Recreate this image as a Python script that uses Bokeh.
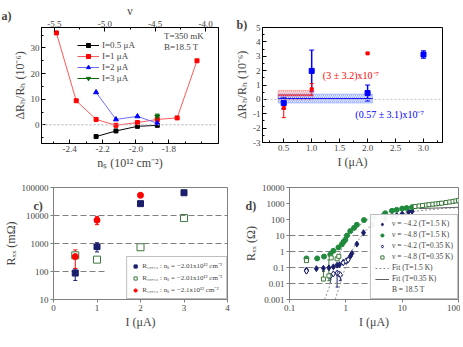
from bokeh.plotting import figure
from bokeh.models import (Range1d, LinearAxis, Label, Legend, LegendItem, Whisker, Title,
                          ColumnDataSource, FixedTicker, PrintfTickFormatter, Span, TeeHead)
from bokeh.layouts import column, row
from bokeh.embed import file_html
from bokeh.resources import INLINE

FONT = "Liberation Serif"

# ---------------- panel a data ----------------
a_ns = [-2.48, -2.36, -2.24, -2.12, -1.99, -1.87, -1.75, -1.63]
a_red_y = [35.9, 9.4, 2.1, -0.2, 0.9, 2.1, 2.7, 25.0]
a_black_x = [-2.24, -2.12, -1.99, -1.87]
a_black_y = [-4.6, -2.4, -0.6, -0.2]
a_blue_x = [-2.24, -2.12, -1.99, -1.87]
a_blue_y = [12.7, 2.1, 3.3, 0.6]
a_green_x = [-1.87]
a_green_y = [3.3]
a_green_err = [0.9]
a_red_err_x = [-1.87]
a_red_err_y = [2.1]
a_red_err = [1.0]
a_xticks = [-2.4, -2.2, -2.0, -1.8]
a_nu_ticks = [-5.5, -5.0, -4.5, -4.0]
a_yticks = [0, 10, 20, 30]

# ---------------- panel b data ----------------
b_blue_x = [0.5, 1.0, 2.0, 3.0]
b_blue_y = [-0.26, 1.98, 0.44, 3.12]
b_blue_err = [0.4, 1.45, 0.56, 0.26]
b_red_x = [0.5, 1.0, 2.0]
b_red_y = [-0.6, 0.7, 3.2]
b_red_err = [0.67, 0.4, 0.05]
b_red_fit = [0.3, 0.32]          # mean, error
b_red_fit_x = [0.4, 1.02]
b_blue_fit = [0.057, 0.31]
b_blue_fit_x = [0.4, 2.09]
b_xticks = [0.5, 1.0, 1.5, 2.0, 2.5, 3.0]
b_yticks = [-3, -2, -1, 0, 1, 2, 3, 4, 5]

# ---------------- panel c data ----------------
c_navy_x = [0.5, 1.0, 2.0, 3.0]
c_navy_y = [88, 776, 26500, 65000]
c_navy_lo = [48, 500, 26500, 65000]
c_navy_hi = [125, 1070, 26500, 65000]
c_open_x = [0.5, 1.0, 2.0, 3.0]
c_open_y = [378, 265, 735, 8100]
c_red_x = [0.5, 1.0, 2.0]
c_red_y = [340, 6800, 52700]
c_red_lo = [129, 4700, 52700]
c_red_hi = [590, 9300, 52700]
c_xticks = [0, 1, 2, 3, 4]
c_yticks = [10, 100, 1000, 10000, 100000]
c_dash = [100, 1000, 10000]

# ---------------- panel d data ----------------
d_n42_hot_x = [0.2, 0.2, 0.3, 0.4, 0.5, 0.6, 0.7, 0.77, 0.9, 1.05, 1.2, 1.28, 1.57, 2.06, 3.0, 5.0, 6.6, 8.0, 10.0, 13.0, 15.0]
d_n42_hot_y = [0.07, 0.06, 0.085, 0.089, 0.095, 0.11, 0.14, 0.15, 0.21, 0.27, 0.5, 0.76, 2.9, 15, 47, 114, 155, 178, 225, 300, 330]
d_n48_hot_x = [0.2, 0.31, 0.41, 0.53, 0.6, 0.74, 0.85, 0.91, 0.98, 1.05, 1.2, 1.4, 1.57, 2.1, 3.1, 5.0, 6.6, 8.0, 10.0, 12.0, 15.0]
d_n48_hot_y = [0.37, 0.37, 0.48, 0.66, 1.1, 1.8, 2.8, 4.0, 5.4, 10, 19, 30, 47, 92, 144, 245, 350, 400, 480, 520, 590]
d_n42_cold_x = [0.2, 0.53, 0.6, 0.7, 0.75, 0.8, 0.9, 1.0, 1.1]
d_n42_cold_y = [0.06, 0.029, 0.04, 0.045, 0.04, 0.035, 0.2, 0.25, 0.3]
d_n42_cold_lo = [0.06, 0.01, 0.04, 0.006, 0.04, 0.015, 0.2, 0.25, 0.3]
d_n48_cold_x = [0.2, 0.4, 0.5, 0.55, 0.7, 0.75, 17, 20, 23, 27, 30, 35, 40, 45, 50, 60, 70, 80, 90, 100]
d_n48_cold_y = [0.27, 0.019, 0.03, 0.4, 0.35, 0.5, 650, 700, 750, 800, 850, 900, 950, 1000, 1050, 1150, 1250, 1350, 1450, 1550]
d_n48_cold_lo = [0.27, 0.015, 0.015, 0.4, 0.35, 0.5, 650, 700, 750, 800, 850, 900, 950, 1000, 1050, 1150, 1250, 1350, 1450, 1550]
d_n48_cold_hi = [0.27, 0.056, 0.3, 0.4, 0.35, 0.5, 650, 700, 750, 800, 850, 900, 950, 1000, 1050, 1150, 1250, 1350, 1450, 1550]
d_fit48_x = [0.42, 0.5, 0.6, 0.7, 0.85, 1.0, 1.3, 1.7, 2.2, 3.0, 5.0, 10, 20, 50, 100]
d_fit48_y = [0.001, 0.005, 0.05, 0.3, 1.5, 5, 15, 40, 80, 150, 280, 500, 750, 1100, 1400]
d_fit42_x = [0.65, 0.75, 0.9, 1.0, 1.2, 1.5, 2.0, 2.5, 3.0, 5.0, 10, 20, 50, 100]
d_fit42_y = [0.001, 0.005, 0.04, 0.12, 0.7, 3, 12, 30, 50, 110, 230, 350, 480, 550]
d_fitc_x = [20, 40, 70, 100]
d_fitc_y = [480, 520, 560, 580]
d_xticks = [0.1, 1, 10, 100]
d_yticks = [0.001, 0.01, 0.1, 1, 10, 100, 1000, 10000]
d_dash = [0.01, 0.1, 1, 10]

NAVY = "#1b1f6b"
GREEN = "#1f8a3c"
OGREEN = "#3d7a3d"


def style(p, grey=False, inner=True):
    p.outline_line_color = "#808080" if grey else "black"
    p.xgrid.visible = False
    p.ygrid.visible = False
    for ax in p.axis:
        ax.major_label_text_font = FONT
        ax.major_label_text_font_size = "9px"
        ax.axis_label_text_font = FONT
        ax.axis_label_text_font_size = "12px"
        ax.axis_label_text_font_style = "normal"
        ax.axis_line_color = "#808080" if grey else "black"
        ax.major_tick_line_color = "#808080" if grey else "black"
        ax.major_label_standoff = 2
        ax.axis_label_standoff = 1
        if inner:
            ax.major_tick_in = 4
            ax.major_tick_out = 0
            ax.minor_tick_in = 2
            ax.minor_tick_out = 0
        else:
            ax.major_tick_in = 0
            ax.major_tick_out = 3
            ax.minor_tick_line_color = None


def tag(p, txt, offset, standoff):
    p.add_layout(Title(text=txt, align="left", offset=offset, vertical_align="bottom",
                       standoff=standoff, text_font=FONT, text_font_size="12px",
                       text_font_style="bold"), "above")


# ================= panel a =================
pa = figure(frame_width=177, frame_height=116, x_range=Range1d(-2.57, -1.50), y_range=Range1d(-7.3, 38),
            output_backend="svg", toolbar_location=None,
            min_border_left=41, min_border_right=14, min_border_top=5, min_border_bottom=5)
pa.extra_x_ranges = {"nu": Range1d(-5.627, -3.873)}
topax = LinearAxis(x_range_name="nu", axis_label="ν",
                   ticker=FixedTicker(ticks=a_nu_ticks, minor_ticks=[-5.25, -4.75, -4.25]),
                   formatter=PrintfTickFormatter(format="%.1f"))
pa.add_layout(topax, "above")
bax = pa.below[0]
bax.ticker = FixedTicker(ticks=a_xticks, minor_ticks=[-2.5, -2.3, -2.1, -1.9, -1.7, -1.6])
bax.formatter = PrintfTickFormatter(format="%.1f")
bax.axis_label = "nₛ (10¹² cm⁻²)"
lax = pa.left[0]
lax.ticker = FixedTicker(ticks=a_yticks, minor_ticks=[-5, 5, 15, 25, 35])
lax.axis_label = "ΔRₕ/Rₕ (10⁻⁶)"
style(pa)
topax.axis_label_standoff = 0
topax.major_label_standoff = 1
pa.add_layout(Span(location=0, dimension="width", line_color="#b0b0b0", line_dash="2 2", line_width=1))

lk = pa.line(a_black_x, a_black_y, line_color="black", line_width=1)
sk = pa.scatter(a_black_x, a_black_y, marker="square", size=4, color="black")
lr = pa.line(a_ns, a_red_y, line_color="#ff5a5a", line_width=1)
sr = pa.scatter(a_ns, a_red_y, marker="square", size=4, color="red")
lb = pa.line(a_blue_x, a_blue_y, line_color="#6f6fff", line_width=1)
sb = pa.scatter(a_blue_x, a_blue_y, marker="triangle", size=5, color="blue")
lg = pa.line(a_green_x, a_green_y, line_color="#0a6a0a", line_width=1)
sg = pa.scatter(a_green_x, a_green_y, marker="inverted_triangle", size=5, color="#0a6a0a")
pa.add_layout(Whisker(base=a_red_err_x[0], upper=a_red_err_y[0] + a_red_err[0],
                      lower=a_red_err_y[0] - a_red_err[0], line_color="red",
                      upper_head=TeeHead(size=4, line_color="red"),
                      lower_head=TeeHead(size=4, line_color="red")))
src_ag = ColumnDataSource(dict(x=a_green_x, up=[y + e for y, e in zip(a_green_y, a_green_err)],
                               lo=[y - e for y, e in zip(a_green_y, a_green_err)]))
pa.add_layout(Whisker(source=src_ag, base="x", upper="up", lower="lo", line_color="#0a6a0a",
                      upper_head=TeeHead(size=4, line_color="#0a6a0a"),
                      lower_head=TeeHead(size=4, line_color="#0a6a0a")))
leg_a = Legend(items=[LegendItem(label="I=0.5 μA", renderers=[lk, sk]),
                      LegendItem(label="I=1 μA", renderers=[lr, sr]),
                      LegendItem(label="I=2 μA", renderers=[lb, sb]),
                      LegendItem(label="I=3 μA", renderers=[lg, sg])],
               location=(36, 60), background_fill_alpha=0, border_line_alpha=0,
               label_text_font=FONT, label_text_font_size="9px", glyph_width=22, glyph_height=10,
               label_height=10, spacing=1, padding=0, margin=0, label_standoff=3)
pa.add_layout(leg_a)
pa.add_layout(Label(x=-1.83, y=34.6, text="T=350 mK", text_font=FONT, text_font_size="9px",
                    text_baseline="middle"))
pa.add_layout(Label(x=-1.83, y=30.2, text="B=18.5 T", text_font=FONT, text_font_size="9px",
                    text_baseline="middle"))
tag(pa, "a)", -40, -45)

# ================= panel b =================
pb = figure(frame_width=180, frame_height=115, x_range=Range1d(0.12, 3.34), y_range=Range1d(-3, 5),
            output_backend="svg", toolbar_location=None,
            min_border_left=28, min_border_right=3, min_border_top=22, min_border_bottom=40)
b_xt = FixedTicker(ticks=b_xticks, minor_ticks=[0.25, 0.75, 1.25, 1.75, 2.25, 2.75, 3.25])
b_yt = FixedTicker(ticks=b_yticks, minor_ticks=[-2.5, -1.5, -0.5, 0.5, 1.5, 2.5, 3.5, 4.5])
pb.xaxis.ticker = b_xt
pb.xaxis.formatter = PrintfTickFormatter(format="%.1f")
pb.yaxis.ticker = b_yt
pb.yaxis.formatter = PrintfTickFormatter(format="%d")
pb.xaxis.axis_label = "I (μA)"
pb.yaxis.axis_label = "ΔRₕ/Rₕ (10⁻⁶)"
style(pb)
pb.add_layout(Span(location=0, dimension="width", line_color="#c0c0c0", line_dash="2 2", line_width=1))
pb.quad(left=[b_red_fit_x[0]], right=[b_red_fit_x[1]], bottom=[b_red_fit[0] - b_red_fit[1]],
        top=[b_red_fit[0] + b_red_fit[1]], fill_color="red", fill_alpha=0.08,
        hatch_pattern="left_diagonal_line", hatch_color="#e06060", hatch_alpha=0.7, hatch_scale=4,
        hatch_weight=0.7, line_color="#ff8080", line_alpha=0.6)
pb.quad(left=[b_blue_fit_x[0]], right=[b_blue_fit_x[1]], bottom=[b_blue_fit[0] - b_blue_fit[1]],
        top=[b_blue_fit[0] + b_blue_fit[1]], fill_color="#4f7fff", fill_alpha=0.12,
        hatch_pattern="left_diagonal_line", hatch_color="#4f6fff", hatch_alpha=0.7, hatch_scale=4,
        hatch_weight=0.7, line_color="#8fa8ff", line_alpha=0.6)
pb.line(b_red_fit_x, [b_red_fit[0]] * 2, line_color="red", line_width=1)
pb.line(b_blue_fit_x, [b_blue_fit[0]] * 2, line_color="blue", line_width=1)
src_bb = ColumnDataSource(dict(x=b_blue_x, up=[y + e for y, e in zip(b_blue_y, b_blue_err)],
                               lo=[y - e for y, e in zip(b_blue_y, b_blue_err)]))
pb.add_layout(Whisker(source=src_bb, base="x", upper="up", lower="lo", line_color="blue", line_width=1.5,
                      upper_head=TeeHead(size=5, line_color="blue"),
                      lower_head=TeeHead(size=5, line_color="blue")))
src_br = ColumnDataSource(dict(x=b_red_x, up=[y + e for y, e in zip(b_red_y, b_red_err)],
                               lo=[y - e for y, e in zip(b_red_y, b_red_err)]))
pb.add_layout(Whisker(source=src_br, base="x", upper="up", lower="lo", line_color="red", line_width=1,
                      upper_head=TeeHead(size=4, line_color="red"),
                      lower_head=TeeHead(size=4, line_color="red")))
pb.scatter(b_blue_x, b_blue_y, marker="square", size=5, color="blue")
pb.scatter(b_red_x, b_red_y, marker="square", size=3, color="red")
pb.add_layout(Label(x=1.2, y=1.65, text="(3 ± 3.2)x10⁻⁷", text_font=FONT, text_font_size="10px",
                    text_color="red", text_baseline="middle"))
pb.add_layout(Label(x=1.78, y=-1.07, text="(0.57 ± 3.1)x10⁻⁷", text_font=FONT, text_font_size="10px",
                    text_color="blue", text_baseline="middle"))
tag(pb, "b)", -26, -9)

# ================= panel c =================
pc = figure(frame_width=174, frame_height=112, x_range=Range1d(0, 4), y_range=Range1d(10, 100000),
            y_axis_type="log", output_backend="svg", toolbar_location=None,
            min_border_left=45, min_border_right=13, min_border_top=10, min_border_bottom=5)
pc.xaxis.ticker = FixedTicker(ticks=c_xticks)
pc.yaxis.ticker = FixedTicker(ticks=c_yticks)
pc.yaxis.formatter = PrintfTickFormatter(format="%d")
pc.xaxis.axis_label = "I (μA)"
pc.yaxis.axis_label = "Rₓₓ (mΩ)"
style(pc, grey=True, inner=False)
for v in c_dash[1:]:
    pc.add_layout(Span(location=v, dimension="width", line_color="#808080", line_dash="6 3", line_width=1))
pc.line([0, 1.2], [c_dash[0]] * 2, line_color="#808080", line_dash="6 3", line_width=1)
src_cn = ColumnDataSource(dict(x=c_navy_x, up=c_navy_hi, lo=c_navy_lo))
pc.add_layout(Whisker(source=src_cn, base="x", upper="up", lower="lo", line_color=NAVY,
                      upper_head=TeeHead(size=4, line_color=NAVY), lower_head=TeeHead(size=4, line_color=NAVY)))
src_cr = ColumnDataSource(dict(x=c_red_x, up=c_red_hi, lo=c_red_lo))
pc.add_layout(Whisker(source=src_cr, base="x", upper="up", lower="lo", line_color="red",
                      upper_head=TeeHead(size=4, line_color="red"), lower_head=TeeHead(size=4, line_color="red")))
rc1 = pc.scatter(c_navy_x, c_navy_y, marker="square", size=6, color=NAVY)
rc2 = pc.scatter(c_open_x, c_open_y, marker="square", size=7, fill_color="white", line_color=OGREEN)
rc3 = pc.scatter(c_red_x, c_red_y, marker="circle", size=6, color="red")
leg_c = Legend(items=[LegendItem(label="R₁₈,₂₄ : nₛ = −2.01x10¹² cm⁻²", renderers=[rc1]),
                      LegendItem(label="R₂₈,₃₄ : nₛ = −2.01x10¹² cm⁻²", renderers=[rc2]),
                      LegendItem(label="R₁₈,₂₄ : nₛ = −2.1x10¹² cm⁻²", renderers=[rc3])],
               location="bottom_right", border_line_color="#808080", label_text_font=FONT,
               label_text_font_size="7px", glyph_width=8, glyph_height=8, label_height=8,
               spacing=3, padding=4, margin=0, label_standoff=3)
pc.add_layout(leg_c)
tag(pc, "c)", -20, -50)

# ================= panel d =================
pd_ = figure(frame_width=169, frame_height=112, x_axis_type="log", y_axis_type="log",
             x_range=Range1d(0.1, 100), y_range=Range1d(0.001, 10000),
             output_backend="svg", toolbar_location=None,
             min_border_left=44, min_border_right=2, min_border_top=10, min_border_bottom=5)
pd_.xaxis.ticker = FixedTicker(ticks=d_xticks)
pd_.yaxis.ticker = FixedTicker(ticks=d_yticks)
pd_.xaxis.formatter = PrintfTickFormatter(format="%g")
pd_.yaxis.formatter = PrintfTickFormatter(format="%g")
pd_.xaxis.axis_label = "I (μA)"
pd_.yaxis.axis_label = "Rₓₓ (Ω)"
style(pd_, grey=True, inner=False)
for v in d_dash:
    pd_.line([0.1, 3.8], [v, v], line_color="#808080", line_dash="6 3", line_width=1)
f1 = pd_.line(d_fit48_x, d_fit48_y, line_color="#909090", line_dash="2 2", line_width=1)
pd_.line(d_fit42_x, d_fit42_y, line_color="#909090", line_dash="2 2", line_width=1)
f2 = pd_.line(d_fitc_x, d_fitc_y, line_color="#606060", line_width=1)
src_d1 = ColumnDataSource(dict(x=d_n42_cold_x, up=d_n42_cold_y, lo=d_n42_cold_lo))
pd_.add_layout(Whisker(source=src_d1, base="x", upper="up", lower="lo", line_color=NAVY,
                       upper_head=None, lower_head=TeeHead(size=3, line_color=NAVY)))
src_d2 = ColumnDataSource(dict(x=d_n48_cold_x, up=d_n48_cold_hi, lo=d_n48_cold_lo))
pd_.add_layout(Whisker(source=src_d2, base="x", upper="up", lower="lo", line_color=OGREEN,
                       upper_head=TeeHead(size=3, line_color=OGREEN),
                       lower_head=TeeHead(size=3, line_color=OGREEN)))
d1 = pd_.scatter(d_n42_hot_x, d_n42_hot_y, marker="diamond", size=6, color=NAVY)
d2 = pd_.scatter(d_n48_hot_x, d_n48_hot_y, marker="circle", size=5, color=GREEN)
d3 = pd_.scatter(d_n42_cold_x, d_n42_cold_y, marker="diamond", size=6, fill_color="white", line_color=NAVY)
d4 = pd_.scatter(d_n48_cold_x, d_n48_cold_y, marker="square", size=4, fill_color="white", line_color=OGREEN)
dummy = pd_.scatter([1], [1], size=0, alpha=0)
leg_d = Legend(items=[LegendItem(label="ν = −4.2 (T=1.5 K)", renderers=[d1]),
                      LegendItem(label="ν = −4.8 (T=1.5 K)", renderers=[d2]),
                      LegendItem(label="ν = −4.2 (T=0.35 K)", renderers=[d3]),
                      LegendItem(label="ν = −4.8 (T=0.35 K)", renderers=[d4]),
                      LegendItem(label="Fit (T=1.5 K)", renderers=[f1]),
                      LegendItem(label="Fit (T=0.35 K)", renderers=[f2]),
                      LegendItem(label="B = 18.5 T", renderers=[dummy])],
               location="bottom_right", border_line_color="#808080", label_text_font=FONT,
               label_text_font_size="7.5px", glyph_width=14, glyph_height=8, label_height=8,
               spacing=2, padding=4, margin=0, label_standoff=3)
pd_.add_layout(leg_d)
tag(pd_, "d)", -44, -50)

layout = column(row(pa, pb), row(pc, pd_))
open("out.html", "w").write(file_html(layout, INLINE))
